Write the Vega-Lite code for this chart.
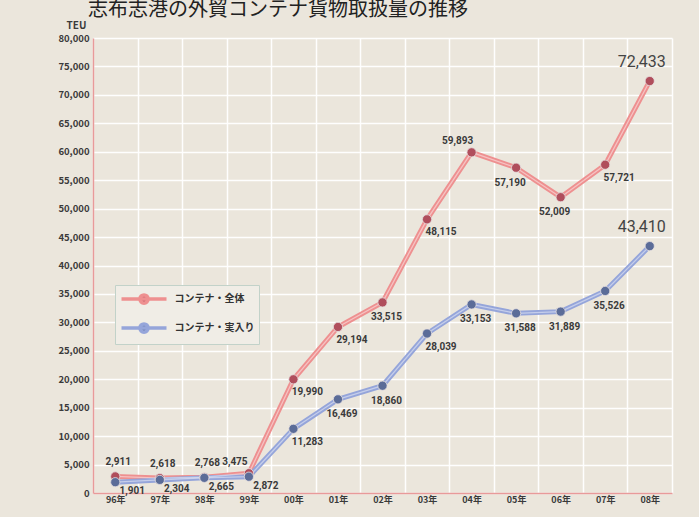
{
  "$schema": "https://vega.github.io/schema/vega-lite/v6.json",
  "width": 579,
  "height": 455,
  "autosize": {"type": "none"},
  "padding": {"left": 93, "top": 38, "right": 27, "bottom": 24},
  "background": "#EBE6DC",
  "title": {
    "text": "志布志港の外貿コンテナ貨物取扱量の推移",
    "anchor": "start",
    "frame": "group",
    "dx": -5,
    "dy": 24,
    "offset": 4,
    "baseline": "bottom",
    "font": "Noto Sans CJK JP",
    "fontSize": 20,
    "fontWeight": "normal",
    "color": "#222222"
  },
  "config": {
    "view": {"stroke": null},
    "font": "Noto Sans CJK JP",
    "axis": {
      "gridColor": "#FFFFFF",
      "gridWidth": 1.5,
      "gridOpacity": 0.95,
      "ticks": false,
      "domainColor": "#E89A9A",
      "domainWidth": 1.5,
      "labelFont": "Noto Sans CJK JP",
      "labelFontWeight": "bold",
      "labelColor": "#3A3A3A"
    }
  },
  "data": {
    "values": [
      {"year": "96年", "series": "コンテナ・全体", "value": 2911},
      {"year": "97年", "series": "コンテナ・全体", "value": 2618},
      {"year": "98年", "series": "コンテナ・全体", "value": 2768},
      {"year": "99年", "series": "コンテナ・全体", "value": 3475},
      {"year": "00年", "series": "コンテナ・全体", "value": 19990},
      {"year": "01年", "series": "コンテナ・全体", "value": 29194},
      {"year": "02年", "series": "コンテナ・全体", "value": 33515},
      {"year": "03年", "series": "コンテナ・全体", "value": 48115},
      {"year": "04年", "series": "コンテナ・全体", "value": 59893},
      {"year": "05年", "series": "コンテナ・全体", "value": 57190},
      {"year": "06年", "series": "コンテナ・全体", "value": 52009},
      {"year": "07年", "series": "コンテナ・全体", "value": 57721},
      {"year": "08年", "series": "コンテナ・全体", "value": 72433},
      {"year": "96年", "series": "コンテナ・実入り", "value": 1901},
      {"year": "97年", "series": "コンテナ・実入り", "value": 2304},
      {"year": "98年", "series": "コンテナ・実入り", "value": 2665},
      {"year": "99年", "series": "コンテナ・実入り", "value": 2872},
      {"year": "00年", "series": "コンテナ・実入り", "value": 11283},
      {"year": "01年", "series": "コンテナ・実入り", "value": 16469},
      {"year": "02年", "series": "コンテナ・実入り", "value": 18860},
      {"year": "03年", "series": "コンテナ・実入り", "value": 28039},
      {"year": "04年", "series": "コンテナ・実入り", "value": 33153},
      {"year": "05年", "series": "コンテナ・実入り", "value": 31588},
      {"year": "06年", "series": "コンテナ・実入り", "value": 31889},
      {"year": "07年", "series": "コンテナ・実入り", "value": 35526},
      {"year": "08年", "series": "コンテナ・実入り", "value": 43410}
    ]
  },
  "encoding": {
    "x": {
      "field": "year",
      "type": "ordinal",
      "sort": null,
      "bandPosition": 0.5,
      "scale": {"type": "band", "paddingInner": 0, "paddingOuter": 0},
      "axis": {
        "title": null,
        "grid": true,
        "tickBand": "extent",
        "labelAngle": 0,
        "labelFontSize": 9,
        "labelPadding": 2
      }
    },
    "y": {
      "field": "value",
      "type": "quantitative",
      "scale": {"domain": [0, 80000], "nice": false},
      "axis": {
        "values": [0, 5000, 10000, 15000, 20000, 25000, 30000, 35000, 40000, 45000, 50000, 55000, 60000, 65000, 70000, 75000, 80000],
        "format": ",.0f",
        "labelFontSize": 9.5,
        "labelPadding": 4,
        "title": "TEU",
        "titleAngle": 0,
        "titleX": -17,
        "titleY": -13,
        "titleAlign": "center",
        "titleBaseline": "middle",
        "titleFontSize": 10,
        "titleFontWeight": "bold",
        "titleColor": "#3A3A3A"
      }
    }
  },
  "layer": [
    {
      "mark": {"type": "line", "strokeWidth": 5},
      "encoding": {
        "color": {
          "field": "series",
          "type": "nominal",
          "sort": null,
          "scale": {"domain": ["コンテナ・全体", "コンテナ・実入り"], "range": ["#EE9090", "#95A5DA"]},
          "legend": {
            "title": null,
            "orient": "none",
            "legendX": 22,
            "legendY": 247,
            "padding": 4.5,
            "rowPadding": 6,
            "fillColor": "#F0EDE6",
            "strokeColor": "#C2D2C9",
            "symbolType": "M-1,0H5M1.45,0A0.55,0.55,0,1,0,2.55,0A0.55,0.55,0,1,0,1.45,0Z",
            "symbolSize": 225,
            "symbolStrokeWidth": 3.5,
            "labelOffset": 36,
            "labelFont": "Noto Sans CJK JP",
            "labelFontSize": 10,
            "labelFontWeight": "bold",
            "labelColor": "#333333"
          }
        }
      }
    },
    {
      "mark": {"type": "line", "strokeWidth": 1.3, "stroke": "#FFFFFF", "opacity": 0.45},
      "encoding": {"detail": {"field": "series"}}
    },
    {
      "mark": {"type": "point", "shape": "circle", "filled": true, "size": 85, "stroke": "#E6E0E0", "strokeWidth": 0.8, "opacity": 1},
      "encoding": {
        "fill": {
          "field": "series",
          "type": "nominal",
          "scale": {"domain": ["コンテナ・全体", "コンテナ・実入り"], "range": ["#B04E5C", "#5B6C98"]},
          "legend": null
        }
      }
    },
    {
      "transform": [{"filter": {"field": "value", "oneOf": [33515, 16469, 18860, 33153, 31588, 31889, 35526]}}],
      "mark": {"type": "text", "dx": 4, "dy": 15, "font": "Roboto", "fontSize": 10, "fontWeight": "bold", "color": "#3A3A3A"},
      "encoding": {"text": {"field": "value", "type": "quantitative", "format": ",.0f"}}
    },
    {
      "transform": [{"filter": {"field": "value", "oneOf": [29194, 48115, 19990, 11283, 57721, 28039]}}],
      "mark": {"type": "text", "dx": 14, "dy": 13, "font": "Roboto", "fontSize": 10, "fontWeight": "bold", "color": "#3A3A3A"},
      "encoding": {"text": {"field": "value", "type": "quantitative", "format": ",.0f"}}
    },
    {
      "transform": [{"filter": {"field": "value", "oneOf": [57190, 52009]}}],
      "mark": {"type": "text", "dx": -6, "dy": 15, "font": "Roboto", "fontSize": 10, "fontWeight": "bold", "color": "#3A3A3A"},
      "encoding": {"text": {"field": "value", "type": "quantitative", "format": ",.0f"}}
    },
    {
      "transform": [{"filter": {"field": "value", "oneOf": [1901, 2304, 2665, 2872]}}],
      "mark": {"type": "text", "dx": 17, "dy": 9, "font": "Roboto", "fontSize": 10, "fontWeight": "bold", "color": "#3A3A3A"},
      "encoding": {"text": {"field": "value", "type": "quantitative", "format": ",.0f"}}
    },
    {
      "transform": [{"filter": {"field": "value", "oneOf": [2911, 2618, 2768]}}],
      "mark": {"type": "text", "dx": 3, "dy": -14, "font": "Roboto", "fontSize": 10, "fontWeight": "bold", "color": "#3A3A3A"},
      "encoding": {"text": {"field": "value", "type": "quantitative", "format": ",.0f"}}
    },
    {
      "transform": [{"filter": {"field": "value", "oneOf": [3475, 59893]}}],
      "mark": {"type": "text", "dx": -14, "dy": -11, "font": "Roboto", "fontSize": 10, "fontWeight": "bold", "color": "#3A3A3A"},
      "encoding": {"text": {"field": "value", "type": "quantitative", "format": ",.0f"}}
    },
    {
      "transform": [{"filter": {"field": "value", "oneOf": [72433, 43410]}}],
      "mark": {"type": "text", "dx": -8, "dy": -19, "font": "Roboto", "fontSize": 16, "fontWeight": "normal", "color": "#444444"},
      "encoding": {"text": {"field": "value", "type": "quantitative", "format": ",.0f"}}
    }
  ]
}
